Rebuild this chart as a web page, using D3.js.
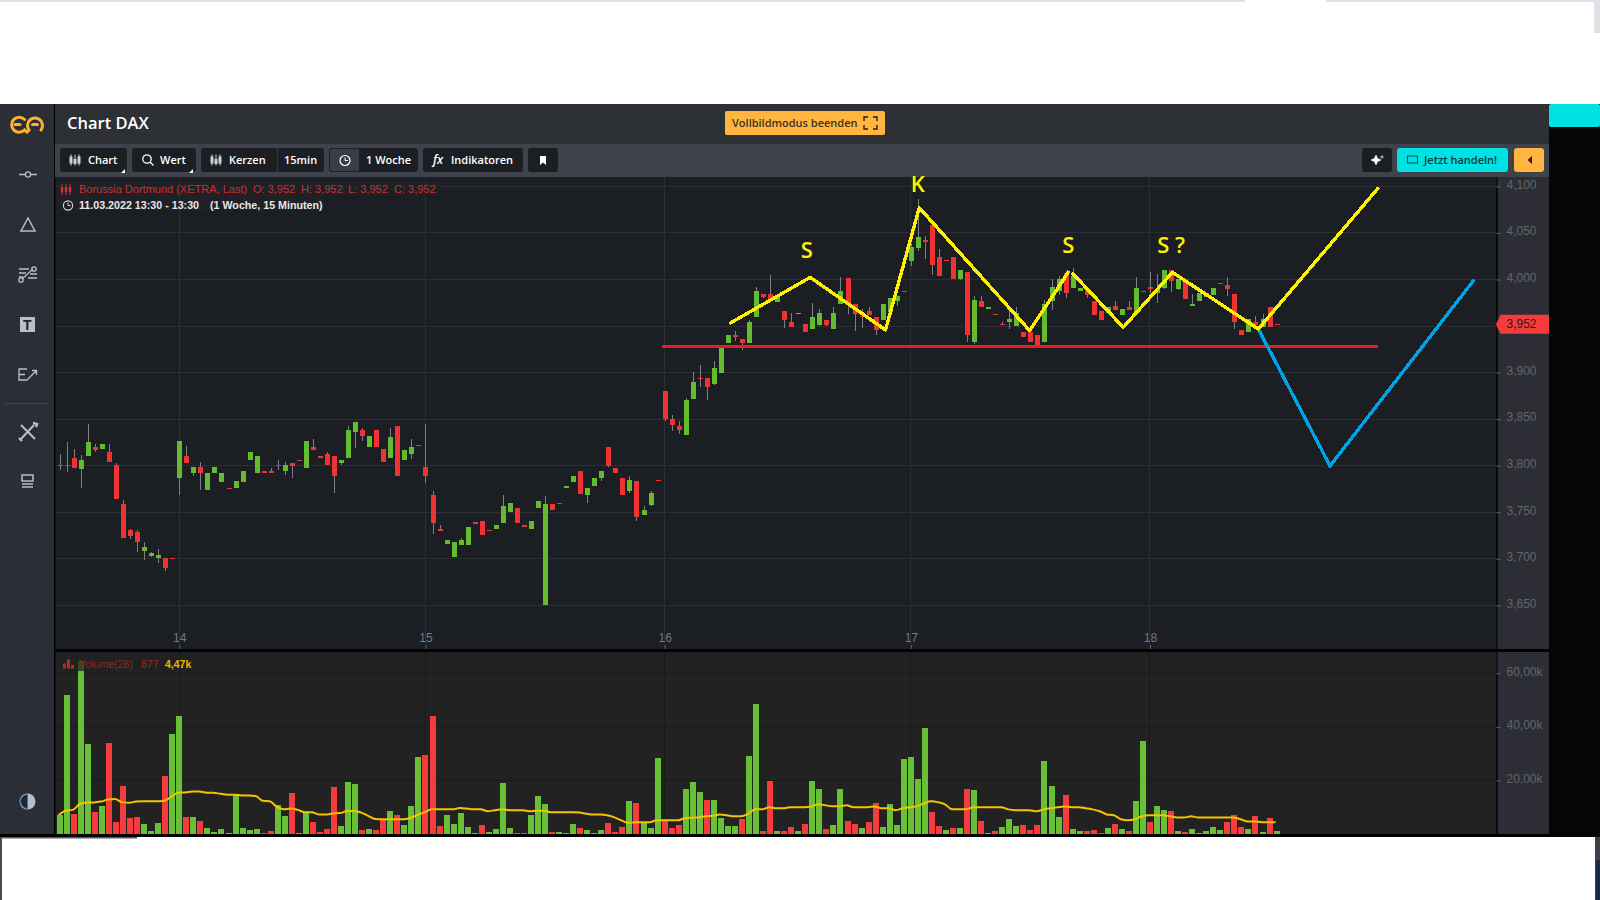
<!DOCTYPE html>
<meta charset="utf-8">
<style>
 html, body { margin: 0; background: #fff; overflow: hidden; }
 svg { position: absolute; left: 0; top: 0; display: block; }
 text { font-family: "Liberation Sans", Arial, sans-serif; }
 .ui { font-family: "Open Sans", "Noto Sans", sans-serif; font-weight: 600; }
</style>
<svg id="chart" width="1600" height="900"></svg>
<script src="https://cdn.jsdelivr.net/npm/d3@7"></script>
<script>

// candles, 15 minutes each
var opens = [3801,3801,3808,3796,3810,3820,3818,3815,3801,3759,3731,3729,3708,3703,3701,3701,3701,3787,3810,3792,3799,3774,3792,3782,3776,3776,3782,3806,3792,3794,3794,3801,3794,3803,3806,3798,3820,3810,3813,3810,3803,3808,3836,3838,3820,3838,3818,3808,3843,3806,3812,3822,3799,3769,3732,3716,3702,3715,3715,3739,3741,3731,3732,3738,3750,3755,3736,3732,3754,3650,3759,3760,3776,3782,3794,3768,3778,3787,3820,3797,3787,3773,3783,3747,3758,3785,3880,3850,3843,3833,3872,3894,3894,3888,3900,3932,3940,3936,3932,3960,3984,3984,3976,3966,3954,3963,3952,3947,3951,3956,3947,3974,4002,3974,3961,3966,3960,3956,3965,3977,3988,4020,4034,4042,4058,4024,4021,4024,4000,4008,3933,3977,3968,3963,3952,3954,3950,3944,3944,3940,3933,3977,3988,4007,3991,3988,3988,3977,3966,3964,3972,3962,3970,3965,3988,3992,3986,3991,4010,3990,4000,3972,3977,3981,3983,3996,3994,3984,3946,3944,3954,3949,3970,3952];
var highs = [3813,3825,3818,3811,3845,3823,3823,3823,3803,3763,3732,3731,3718,3707,3711,3701,3701,3827,3821,3799,3804,3792,3799,3792,3776,3783,3794,3815,3810,3794,3797,3806,3804,3803,3806,3827,3829,3810,3815,3810,3806,3843,3847,3841,3832,3838,3818,3841,3843,3817,3829,3822,3845,3773,3736,3720,3718,3722,3734,3739,3741,3731,3736,3769,3760,3755,3736,3741,3762,3767,3759,3760,3778,3789,3794,3776,3787,3794,3820,3797,3787,3789,3783,3757,3773,3785,3880,3854,3848,3873,3901,3908,3894,3912,3926,3940,3945,3936,3956,3992,3984,4005,3983,3966,3964,3964,3952,3975,3968,3956,3970,4003,4002,3974,3968,3970,3960,3974,3980,3982,3988,4039,4086,4047,4059,4033,4021,4024,4010,4008,3982,3982,3970,3963,3954,3969,3970,3944,3947,3940,3978,4001,4004,4009,4012,3991,3988,3977,3966,3970,3977,3968,3977,4003,3988,4008,4006,4010,4010,4001,4000,3984,3986,3986,3991,3996,4003,3984,3946,3958,3961,3963,3970,3952];
var lows = [3795,3793,3797,3776,3810,3815,3818,3804,3764,3722,3721,3707,3699,3702,3695,3687,3701,3769,3803,3789,3774,3774,3792,3782,3776,3776,3782,3806,3792,3792,3792,3795,3790,3787,3806,3798,3817,3808,3801,3771,3801,3808,3819,3827,3820,3820,3804,3808,3789,3806,3807,3822,3781,3727,3730,3716,3702,3715,3715,3739,3726,3731,3732,3738,3750,3738,3734,3732,3754,3650,3752,3760,3776,3782,3770,3760,3778,3783,3799,3792,3768,3771,3741,3747,3757,3785,3848,3837,3834,3833,3872,3885,3871,3887,3900,3932,3934,3924,3932,3960,3980,3976,3976,3948,3949,3963,3944,3947,3950,3950,3947,3974,3963,3945,3948,3962,3940,3956,3965,3971,3988,4014,4031,4022,4005,4004,4021,4000,3999,3933,3931,3970,3968,3963,3951,3947,3950,3938,3933,3930,3933,3967,3983,3980,3991,3988,3980,3962,3956,3964,3967,3962,3967,3964,3988,3985,3975,3990,3987,3989,3979,3972,3977,3981,3983,3996,3982,3947,3940,3944,3949,3949,3949,3952];
var closes = [3801,3801,3798,3806,3825,3817,3823,3804,3764,3722,3724,3718,3713,3706,3704,3690,3701,3827,3803,3799,3792,3792,3799,3792,3776,3783,3794,3815,3810,3792,3792,3801,3801,3800,3806,3827,3817,3808,3801,3789,3806,3838,3847,3832,3832,3820,3804,3831,3789,3817,3820,3822,3789,3738,3730,3720,3718,3720,3734,3739,3726,3731,3736,3757,3760,3738,3734,3741,3762,3759,3752,3760,3778,3789,3770,3776,3787,3794,3800,3792,3768,3785,3745,3752,3771,3785,3850,3844,3838,3871,3890,3894,3884,3905,3926,3940,3940,3932,3954,3988,3981,3977,3983,3956,3949,3964,3944,3960,3964,3951,3964,3988,3974,3963,3961,3962,3946,3974,3980,3982,3988,4035,4046,4042,4016,4004,4021,4000,4010,3940,3978,3970,3970,3963,3952,3958,3964,3938,3933,3930,3974,3992,4000,3986,4004,3991,3983,3962,3956,3970,3967,3968,3967,3991,3988,3990,3990,4010,3998,4001,3979,3974,3986,3986,3991,3996,3990,3954,3940,3958,3951,3958,3949,3952];

// volume in thousands, bar colour per candle, 28 period average
var volumes = [7.1,51.9,7.5,64.5,33.6,8.2,10.4,34,4.5,17.9,6,6.3,3.7,1.1,4.1,21.6,37.3,44,6.3,6.3,4.9,2.2,.7,1.9,.4,14.6,2.2,1.5,1.9,.4,1.1,10.8,6.7,15.3,.4,7.8,4.5,.7,1.9,17.5,3,19.4,18.7,1.5,1.9,1.5,5.6,8.6,7.1,3.4,10.4,28.7,29.5,44,3,7.1,3.7,7.8,2.6,.4,3.4,.7,1.9,19,2.2,.4,.4,7.1,14.2,11.2,.7,.7,.4,3.7,2.2,1.5,.4,1.5,4.1,.7,2.6,12.3,11.6,4.5,2.2,28.4,5.2,2.2,3.4,16.8,19.4,15.7,12.7,12.7,6,3,3,5.6,29.1,48.5,1.1,19.8,1.1,1.1,2.6,1.1,3.7,19.8,16.8,1.9,3.4,16.8,4.9,3.7,2.2,4.5,11.6,2.6,11.2,3.4,28,28.7,20.5,39.6,8.2,3,1.5,2.2,2.2,16.8,16.4,4.9,.4,1.1,2.6,5.6,3,3.4,1.5,3.4,27.2,17.9,6.3,14.6,1.9,1.1,1.1,1.5,.4,2.2,3.7,1.9,1.1,12.3,34.7,4.5,10.4,9,8.6,1.1,.7,1.9,.4,1.1,2.6,1.5,4.5,7.1,2.6,1.9,6.7,.7,6,1.1];
var volumeSides = "GGRGGRGRRRRRGGGRGGRGRGGGGGGGGRRGGRGGRRRRGGGRGRRGRGGGRRRGGGGGRGGGGRRGGGRGGGRGGGRRRGRGGGRRRGGGRGGGGRGGRRGRRGRGGRGGRRGRRGGGGGGGRRGRGRGRGRGGGRRRGGGRGGRRRGRGRGGRGGRGRGGGGGRRRGRGRG";
var volumeAverage = [7.1,8.7,9,11.2,11.8,11.8,12.1,12.9,13.1,11.9,11.7,12.1,12.2,12.2,12.2,12.4,13.9,15.4,15.5,15.9,15.9,15.4,15.4,15,14.7,14.7,14.4,14.4,14.2,12.4,12.2,10.2,9.2,9.5,9,8.1,8.1,7.3,7.3,7.7,7.8,8.6,8.6,8,6.8,5.6,5.5,5.5,5.5,5.5,6,7.1,8.1,9.2,9.2,9.2,9.2,9.7,9.5,9.2,9.2,8.5,8.9,9.2,8.9,8.9,8.9,8.5,8.7,8.7,8.1,8.1,8.1,8.1,8,7.6,7.3,7.3,7,6.2,5.1,4.1,4.4,4.4,4.4,5.1,5.1,5.1,5.1,5.9,6.1,6.2,6.6,6.8,7.3,7,6.6,6.6,7.5,9.2,9.2,10,9.6,9.6,10,10,10,10.3,11.1,10.7,10.4,10.4,10.7,10,10,10,10.3,9.6,9.6,8.9,9.6,10,10.4,11.4,12.2,11.9,11.1,9.2,9.2,9.2,10,10,10,10,10,9.2,8.9,8.9,8.9,8.5,9.2,9.6,10,10.3,10,10,9.6,9.2,8.5,7.3,7,5.5,5.1,5.5,6.6,7,7,7,6.6,6.2,6.2,6.6,6.2,6.2,6.2,6.2,6.2,6.2,5.5,4.7,4.7,4.4,4.4,4.4];

// axes
var dayIndexes = [17, 52, 86, 121, 155];
var dayLabels = ["14", "15", "16", "17", "18"];
var priceTicks = [4100, 4050, 4000, 3950, 3900, 3850, 3800, 3750, 3700, 3650];
var volumeTicks = [60, 40, 20];
var lastPrice = 3952;

// hand drawn lines, candle index and price
var yellowLeftIdx = [95.2, 106.7, 117.4, 122.2, 137.9, 143.5];
var yellowLeftPrice = [3952.6, 4002.3, 3945.8, 4077.1, 3945, 4009.1];
var yellowRightIdx = [143.9, 151.2, 158.2, 170.4, 187.5];
var yellowRightPrice = [4007.3, 3948.6, 4007.7, 3946.8, 4098.8];
var blueIdx = [170.4, 180.6, 201.1];
var bluePrice = [3946.8, 3799.7, 3999.9];
var redIdx = [85.6, 187.4];
var redPrice = [3928, 3928];
var noteTexts = ["S", "K", "S", "S ?"];
var noteIdx = [106.2, 122.0, 143.4, 158.0];
var notePrice = [4023, 4094, 4028, 4028];

var svg = d3.select("#chart");
var left = 55.5, right = 1496.5;
var priceTop = 177, priceBottom = 649, volumeTop = 652, volumeBottom = 834;

var x = d3.scaleLinear().domain([0, 173]).range([59.7, 1276.6]);
var y = d3.scaleLinear().domain([3650, 4100]).range([605.3, 186.4]);
var yv = d3.scaleLinear().domain([0, 60]).range([volumeBottom, 673.3]);

function box(parent, bx, by, w, h, fill, r) {
  return parent.append("rect").attr("x", bx).attr("y", by).attr("width", w).attr("height", h)
    .attr("fill", fill).attr("rx", r || 0);
}
function label(parent, tx, ty, s, fill, size, cls, weight) {
  return parent.append("text").attr("x", tx).attr("y", ty).text(s).attr("fill", fill)
    .attr("font-size", size).attr("class", cls || null).attr("font-weight", weight || null);
}

// page frame
box(svg, 0, 0, 1600, 900, "#fff");
box(svg, 0, 0, 1245, 2, "#dde1e6");
box(svg, 1326, 0, 274, 2, "#dde1e6");
box(svg, 1594, 0, 6, 33, "#dde1e6");
box(svg, 0, 104, 1549, 733, "#000");
box(svg, 1549, 104, 51, 733, "#050505");
box(svg, 1549, 104, 51, 23, "#00e1e3", 2);
box(svg, 0, 104, 54, 730, "#2b2e34");
box(svg, 55, 104, 1494, 39.5, "#2d3035");
box(svg, 55, 143.5, 1494, 33.5, "#3f424b");
box(svg, left, priceTop, right - left, priceBottom - priceTop, "#1b1e23");
box(svg, left, volumeTop, right - left, volumeBottom - volumeTop, "#222222");
box(svg, right + 1, priceTop, 1549 - right - 1, priceBottom - priceTop, "#2d2e35");
box(svg, right + 1, volumeTop, 1549 - right - 1, volumeBottom - volumeTop, "#2d2e35");
box(svg, 0, 837, 137, 1.5, "#5a5d66");
box(svg, 0, 837, 2, 63, "#4a4a50");
box(svg, 1595, 837, 5, 63, "#3c3f46");
box(svg, 1596, 860, 4, 40, "#1b2a4a");

// title bar and toolbar
label(svg, 67, 129, "Chart DAX", "#fff", 16.5, "ui");
box(svg, 725, 111, 160, 24, "#ffb540", 2);
label(svg, 732, 127, "Vollbildmodus beenden", "#3a3320", 11, "ui", 400);
svg.append("path").attr("d", "M864 121v-4h4M873 117h4v4M877 125v4h-4M868 129h-4v-4")
  .attr("fill", "none").attr("stroke", "#222").attr("stroke-width", 1.4);

var toolbar = [[60, 67, "Chart", 88], [132, 64, "Wert", 160], [201, 123, "Kerzen", 229], [329, 89, "1 Woche", 366], [423, 100, "Indikatoren", 451], [528, 30, "", 0]];
toolbar.forEach(function(d) {
  box(svg, d[0], 148, d[1], 24, "#1b1e23", 3);
  if (d[2]) label(svg, d[3], 164, d[2], "#fff", 11, "ui");
});
label(svg, 284, 164, "15min", "#fff", 11, "ui");
box(svg, 277, 148, 1, 24, "#33363d");
box(svg, 330, 149, 29, 22, "#3a3d45", 2);
label(svg, 433, 164, "fx", "#fff", 12, "ui", 800).attr("font-style", "italic");

function candleIcon(ix, iy, color) {
  [0, 4, 8].forEach(function(d, i) {
    svg.append("line").attr("x1", ix + d).attr("x2", ix + d).attr("y1", iy - 5.5).attr("y2", iy + 5.5).attr("stroke", color);
    svg.append("rect").attr("x", ix + d - 1.5).attr("y", iy - (i == 1 ? 1 : 3.5)).attr("width", 3).attr("height", i == 1 ? 5 : 7).attr("fill", color);
  });
}
candleIcon(71, 160, "#cfd3da");
candleIcon(212, 160, "#cfd3da");
svg.append("circle").attr("cx", 147).attr("cy", 159).attr("r", 4.2).attr("fill", "none").attr("stroke", "#fff").attr("stroke-width", 1.3);
svg.append("path").attr("d", "M150 162l3.5 3.5").attr("stroke", "#fff").attr("stroke-width", 1.3);
svg.append("circle").attr("cx", 345).attr("cy", 160.5).attr("r", 5).attr("fill", "none").attr("stroke", "#fff").attr("stroke-width", 1.2);
svg.append("path").attr("d", "M345 157.5v3h3").attr("fill", "none").attr("stroke", "#fff");
svg.append("path").attr("d", "M540 156h6v9l-3-2.4-3 2.4z").attr("fill", "#fff");
[[125, 169], [193, 169]].forEach(function(d) {
  svg.append("path").attr("d", "M" + d[0] + " " + d[1] + "l-4 4h4z").attr("fill", "#fff");
});

box(svg, 1362, 148, 30, 24, "#1b1e23", 3);
svg.append("path").attr("d", "M1376 155l1.6 3.4 3.4 1.6-3.4 1.6-1.6 3.4-1.6-3.4-3.4-1.6 3.4-1.6z M1382 155v4M1380 157h4").attr("fill", "#fff").attr("stroke", "#fff").attr("stroke-width", .6);
box(svg, 1397, 148, 111, 24, "#00e1e3", 3);
svg.append("rect").attr("x", 1407.5).attr("y", 156).attr("width", 10).attr("height", 7).attr("fill", "none").attr("stroke", "#0b5a60").attr("stroke-width", 1.1);
label(svg, 1424, 164, "Jetzt handeln!", "#0b3a40", 11, "ui", 400);
box(svg, 1514, 148, 30, 24, "#ffb540", 3);
svg.append("path").attr("d", "M1532 156v8l-4.5-4z").attr("fill", "#222");

// sidebar
var iconStroke = "#b6bfcc";
var side = svg.append("g").attr("fill", "none").attr("stroke", iconStroke).attr("stroke-width", 1.3);
side.append("path").attr("d", "M19 174.5h6M31 174.5h6");
side.append("circle").attr("cx", 28).attr("cy", 174.5).attr("r", 2.6);
side.append("path").attr("d", "M28 218l7 13h-14z").attr("stroke-width", 1.5);
side.append("path").attr("d", "M19 269h10M19 273h7M19 277h4M28 278h9M30 274h7M22 279l11-10");
side.append("circle").attr("cx", 34).attr("cy", 269).attr("r", 2.2);
side.append("circle").attr("cx", 21).attr("cy", 280).attr("r", 2.2);
box(svg, 20, 317, 15, 15, iconStroke);
label(svg, 23, 329.5, "T", "#22252b", 14, null, 700).attr("font-family", "Liberation Serif");
side.append("path").attr("d", "M27 369h-8v11h8M19 374.5h6M27 380l9-9M32 370.5h4.5v4.5");
box(svg, 5, 403, 44, 1, "#3f434b");
side.append("path").attr("d", "M21 425l14 14M34 425l-13 14").attr("stroke-width", 2);
side.append("path").attr("d", "M19 438l3 3M33 423l4 1-1 3").attr("stroke-width", 2.4);
side.append("path").attr("d", "M22 475h11v6h-11zM22 484h11M22 487h11").attr("stroke-width", 1.5);
svg.append("circle").attr("cx", 27.5).attr("cy", 801.5).attr("r", 8).attr("fill", iconStroke);
svg.append("path").attr("d", "M27.5 794.5a7 7 0 0 0 0 14z").attr("fill", "#22252b").attr("stroke", "#3b6fb0");

var logo = svg.append("g").attr("fill", "none").attr("stroke", "#ffb02e").attr("stroke-width", 3).attr("stroke-linecap", "round");
logo.append("path").attr("d", "M24.5 119.5A7.5 7.5 0 1 0 24.5 130L27 132");
logo.append("path").attr("d", "M27 132L29 130A7.5 7.5 0 1 1 41 130");
logo.append("path").attr("d", "M15 124.5h5M32.5 124.5h5");

// price grid and axis
var grid = svg.append("g").attr("stroke", "#2c2f35").attr("shape-rendering", "crispEdges");
grid.selectAll("line").data(priceTicks).join("line")
  .attr("x1", left).attr("x2", right).attr("y1", function(d) { return y(d); }).attr("y2", function(d) { return y(d); });
var gridV = svg.append("g").attr("stroke", "#2c2f35").attr("shape-rendering", "crispEdges");
gridV.selectAll("line").data(dayIndexes).join("line")
  .attr("x1", function(d) { return x(d); }).attr("x2", function(d) { return x(d); }).attr("y1", priceTop).attr("y2", priceBottom - 5);
var volGrid = svg.append("g").attr("stroke", "#191919").attr("shape-rendering", "crispEdges");
volGrid.selectAll(".h").data(volumeTicks).join("line").attr("class", "h")
  .attr("x1", left).attr("x2", right).attr("y1", function(d) { return yv(d); }).attr("y2", function(d) { return yv(d); });
volGrid.selectAll(".v").data(dayIndexes).join("line").attr("class", "v")
  .attr("x1", function(d) { return x(d); }).attr("x2", function(d) { return x(d); }).attr("y1", volumeTop).attr("y2", volumeBottom);

function styleAxis(g) {
  g.select(".domain").attr("stroke", "#000");
  g.selectAll(".tick line").attr("stroke", "#666");
  g.selectAll(".tick text").attr("fill", "#646569").attr("font-size", 12).attr("font-family", "Liberation Sans");
}
svg.append("g").attr("transform", "translate(" + right + ",0)")
  .call(d3.axisRight(y).tickValues(priceTicks).tickSize(4).tickPadding(6).tickSizeOuter(0).tickFormat(d3.format(",")))
  .call(styleAxis).call(function(g) { g.selectAll(".tick text").attr("dy", "0.15em"); });
svg.append("g").attr("transform", "translate(" + right + ",0)")
  .call(d3.axisRight(yv).tickValues(volumeTicks).tickSize(4).tickPadding(6).tickSizeOuter(0).tickFormat(function(d) { return d + ",00k"; }))
  .call(styleAxis).call(function(g) { g.selectAll(".tick text").attr("dy", "0.15em"); });
svg.append("g").attr("transform", "translate(0," + (priceBottom - 4) + ")")
  .call(d3.axisBottom(x).tickValues(dayIndexes).tickSize(4).tickFormat(function(d, i) { return dayLabels[i]; }))
  .call(styleAxis)
  .call(function(g) {
    g.select(".domain").remove();
    g.selectAll(".tick text").attr("fill", "#77797d").attr("y", -7).attr("dy", "0.3em");
  });

// candles
var idx = d3.range(opens.length);
var candles = svg.append("g").attr("shape-rendering", "crispEdges");
candles.selectAll(".wick").data(idx).join("line").attr("class", "wick")
  .attr("x1", function(i) { return Math.round(x(i)) + .5; }).attr("x2", function(i) { return Math.round(x(i)) + .5; })
  .attr("y1", function(i) { return y(highs[i]); }).attr("y2", function(i) { return y(lows[i]); })
  .attr("stroke", "#7d7f84");
candles.selectAll(".body").data(idx).join("rect").attr("class", "body")
  .attr("x", function(i) { return Math.round(x(i)) - 2; })
  .attr("width", 5)
  .attr("y", function(i) { return y(Math.max(opens[i], closes[i])); })
  .attr("height", function(i) { return Math.max(1.2, Math.abs(y(opens[i]) - y(closes[i]))); })
  .attr("fill", function(i) { return closes[i] > opens[i] ? "#63bb2e" : "#f03232"; });

// volume bars and average
var volumes_g = svg.append("g").attr("shape-rendering", "crispEdges");
volumes_g.selectAll("rect").data(idx).join("rect")
  .attr("x", function(i) { return Math.round(x(i)) - 3.5; })
  .attr("width", 6)
  .attr("y", function(i) { return yv(volumes[i]); })
  .attr("height", function(i) { return volumeBottom - yv(volumes[i]); })
  .attr("fill", function(i) { return volumeSides[i] == "G" ? "#69bf35" : "#f53b3b"; });
svg.append("path").datum(idx)
  .attr("d", d3.line().x(function(i) { return x(i) - 1; }).y(function(i) { return yv(volumeAverage[i]); }).curve(d3.curveMonotoneX))
  .attr("fill", "none").attr("stroke", "#f5c400").attr("stroke-width", 2);

// volume legend
box(svg, 58, 657, 134, 14, "#222222").attr("opacity", .75);
[[63, 5], [67, 9], [71, 3.5]].forEach(function(d) { box(svg, d[0], 668.5 - d[1], 3, d[1], "#b72a2a"); });
label(svg, 79, 668, "Volume(28)", "#8f2626", 10.5);
label(svg, 141, 668, "877", "#a32a2a", 10.5);
label(svg, 165, 668, "4,47k", "#e8b800", 10.5, null, 700);

// last price badge
svg.append("path").datum(lastPrice)
  .attr("d", function(d) { var c = y(d); return "M1496 " + c + "L1500.5 " + (c - 9.5) + "H1549V" + (c + 9.5) + "H1500.5z"; })
  .attr("fill", "#f53c3c");
label(svg, 1506.5, y(lastPrice) + 4, d3.format(",")(lastPrice), "#3a1414", 12);

// hand drawn lines
function polyline(px, py, color, width) {
  svg.append("path").datum(d3.range(px.length))
    .attr("d", d3.line().x(function(i) { return x(px[i]); }).y(function(i) { return y(py[i]); }))
    .attr("fill", "none").attr("stroke", color).attr("stroke-width", width)
    .attr("stroke-linejoin", "round").attr("shape-rendering", "crispEdges");
}
polyline(redIdx, redPrice, "#ed1c24", 3);
polyline(blueIdx, bluePrice, "#00a2e8", 3.4);
polyline(yellowLeftIdx, yellowLeftPrice, "#fff200", 3.4);
polyline(yellowRightIdx, yellowRightPrice, "#fff200", 3.4);
svg.append("g").selectAll("text").data(noteTexts).join("text")
  .attr("class", "ui")
  .attr("x", function(d, i) { return x(noteIdx[i]); })
  .attr("y", function(d, i) { return y(notePrice[i]); })
  .attr("text-anchor", "middle")
  .attr("fill", "#fff200").attr("font-size", 22).attr("font-weight", 700)
  .text(function(d) { return d; });

// price legend
box(svg, 58, 181, 382, 14, "#1f2126");
box(svg, 58, 195, 266, 15, "#1f2126");
[62, 66, 70].forEach(function(d) {
  svg.append("line").attr("x1", d).attr("x2", d).attr("y1", 184).attr("y2", 195).attr("stroke", "#d63030");
  box(svg, d - 1.2, 187, 2.4, 5, "#d63030");
});
label(svg, 79, 193, "Borussia Dortmund (XETRA, Last)", "#c9302f", 11);
label(svg, 253, 193, "O: 3,952", "#c9302f", 11);
label(svg, 301, 193, "H: 3,952", "#c9302f", 11);
label(svg, 348, 193, "L: 3,952", "#c9302f", 11);
label(svg, 394, 193, "C: 3,952", "#c9302f", 11);
svg.append("circle").attr("cx", 68).attr("cy", 205.5).attr("r", 4.6).attr("fill", "none").attr("stroke", "#d8d8d8").attr("stroke-width", 1.1);
svg.append("path").attr("d", "M68 202.5v3h2.5").attr("fill", "none").attr("stroke", "#d8d8d8");
label(svg, 79, 209, "11.03.2022 13:30 - 13:30", "#e8e8e8", 10.7, null, 700);
label(svg, 210, 209, "(1 Woche, 15 Minuten)", "#e8e8e8", 10.7, null, 700);

</script>
